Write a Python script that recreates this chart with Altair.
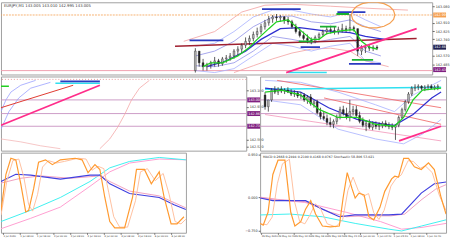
import altair as alt
import pandas as pd

# ================= TOP WINDOW (candles) =================
TOP_OPEN = [142.42,142.62,142.50,142.46,142.48,142.50,142.52,142.49,142.54,142.55,142.57,142.62,142.64,142.68,142.72,142.75,142.79,142.82,142.87,142.91,142.95,142.97,142.96,142.97,142.94,142.92,142.87,142.82,142.78,142.75,142.73,142.72,142.76,142.79,142.82,142.84,142.83,142.82,142.84,142.85,142.84,142.86,142.85,142.62,142.65,142.66,142.65,142.66]
TOP_HIGH = [142.65,142.60,142.54,142.50,142.52,142.56,142.54,142.56,142.58,142.60,142.64,142.67,142.70,142.76,142.78,142.82,142.86,142.90,142.94,142.98,142.99,143.00,142.99,142.98,142.97,142.94,142.90,142.85,142.82,142.79,142.76,142.78,142.81,142.84,142.87,142.88,142.87,142.87,142.90,142.88,143.00,142.88,142.85,142.68,142.69,142.69,142.68,142.68]
TOP_LOW = [142.40,142.46,142.42,142.42,142.44,142.46,142.46,142.47,142.50,142.52,142.54,142.58,142.60,142.65,142.68,142.72,142.76,142.79,142.84,142.88,142.91,142.93,142.92,142.90,142.89,142.85,142.80,142.76,142.73,142.70,142.69,142.70,142.73,142.77,142.79,142.80,142.79,142.79,142.81,142.81,142.82,142.82,142.57,142.58,142.60,142.62,142.62,142.63]
TOP_CLOSE = [142.62,142.50,142.46,142.48,142.50,142.52,142.49,142.54,142.55,142.57,142.62,142.64,142.68,142.72,142.75,142.79,142.82,142.87,142.91,142.95,142.97,142.96,142.97,142.94,142.92,142.87,142.82,142.78,142.75,142.73,142.72,142.76,142.79,142.82,142.84,142.83,142.82,142.84,142.85,142.84,142.86,142.85,142.62,142.65,142.66,142.65,142.66,142.65]
TOP_BARS = list(range(len(TOP_CLOSE)))

TOP_GREEN_X = [2,4,7,11,14,16,19,21,24,27,30,32,34,38,41,43,45,47]
TOP_GREEN_Y = [142.46,142.50,142.50,142.57,142.66,142.74,142.85,142.92,142.94,142.84,142.74,142.74,142.80,142.83,142.84,142.72,142.66,142.64]
TOP_BLUE_X = [3,8,13,17,22,27,33,40,44,49]
TOP_BLUE_Y = [142.46,142.52,142.62,142.74,142.85,142.86,142.83,142.81,142.77,142.74]
TOP_BAND_X = [0,5,10,15,20,25,30,35,40,44,48]
TOP_BAND_UP1 = [142.67,142.70,142.82,142.97,143.04,143.04,143.00,142.97,143.02,142.94,142.87]
TOP_BAND_LO1 = [142.42,142.40,142.44,142.57,142.70,142.67,142.62,142.67,142.70,142.52,142.50]
TOP_BAND_UP2 = [142.57,142.62,142.72,142.87,142.97,142.98,142.92,142.90,142.94,142.87,142.82]
TOP_BAND_LO2 = [142.47,142.46,142.50,142.62,142.77,142.74,142.70,142.74,142.77,142.62,142.57]
TOP_PINK_UP_X = [-3,5,12,18,25,35,44,55]
TOP_PINK_UP_Y = [142.72,142.82,143.02,143.09,143.10,143.08,143.06,143.04]
TOP_PINK_LO_X = [10,15,20,25,30,35,40,44,50]
TOP_PINK_LO_Y = [142.40,142.47,142.54,142.60,142.64,142.65,142.62,142.52,142.46]
TOP_RED_TREND_X = [-5.25, 57.25]
TOP_RED_TREND_Y = [142.67, 142.75]
TOP_PINK_TREND_X = [23.5, 57.25]
TOP_PINK_TREND_Y = [142.40, 142.85]
TOP_ORANGE_LEVEL = [142.99]
TOP_PINK_LEVEL = [142.42]
TOP_BLUE_SEG = [(-1.5, 7.25, 142.73), (17.25, 27.25, 143.05), (36.75, 44, 143.02), (27.25, 32.25, 142.66), (39.75, 48, 142.49)]
TOP_GREEN_SEG = [(36.5, 39.75, 143.00), (32.25, 36.5, 142.87), (26.75, 30.5, 142.72), (40.5, 46, 142.53)]
TOP_CYAN_X = [24, 34]
TOP_CYAN_Y = [142.40, 142.40]
TOP_CIRCLE = (46, 142.99)
TOP_TICKS = [143.080, 142.910, 142.825, 142.740, 142.570, 142.485]
TOP_TITLE = "EURJPY,M1  143.005 143.010 142.995 143.005"

# ================= LEFT MAIN =================
LM_LEVELS = [143.00, 142.86, 142.73]
LM_RED_X = [0, 36.5]; LM_RED_Y = [142.92, 143.15]
LM_PINK_X = [0, 50]; LM_PINK_Y = [142.74, 143.15]
LM_CURVE_A_X = [50,55,59,62.5,66,70,75]
LM_CURVE_A_Y = [142.50,142.60,142.72,142.85,143.00,143.12,143.20]
LM_CURVE_B_X = [0,10,20,30]
LM_CURVE_B_Y = [142.60,142.57,142.53,142.50]
LM_FAN1_X = [0,2.5,5,10,17.5]; LM_FAN1_Y = [142.88,143.00,143.08,143.15,143.20]
LM_FAN2_X = [0,4,9,15,25]; LM_FAN2_Y = [142.70,142.88,143.02,143.12,143.18]
LM_BLUE_SEG = (30, 50, 143.19)
LM_CYAN_SEG = (27.5, 50, 143.17)
LM_GREEN_SEG = (0, 4, 143.14)
LM_DOT_LEVEL = [143.21]
LM_TICKS = [143.10, 142.93, 142.59, 142.52]

# ================= LEFT OSCILLATOR =================
LO_OR1_X = [0,2.5,5,7.5,10,12.5,14,16.5,19,22.5,26,30,37.5,41,44,47.5,50,52.5,55,57.5,62.5,66.5,68.5,72.5,76,80,82.5,86,89,92.5]
LO_OR1_Y = [28,73,93,91,61,26,28,55,88,91,85,91,93,91,75,85,79,44,14,6,6,44,79,79,61,76,44,11,11,20]
LO_OR2_X = [0,3,6,9,11.5,14,16,18.5,21,24,28,32,39,43,46,49,52,54.5,57,60,64,68,70.5,74,78,82,85,88,91,93.5]
LO_OR2_Y = [22,65,90,92,70,35,27,48,82,90,87,89,93,92,78,83,80,50,20,7,7,40,76,80,65,74,48,14,11,17]
LO_BLUE_X = [0,7.5,15,30,45,50,55,65,80,87.5,93.5]
LO_BLUE_Y = [64,73,72,67,72,72,61,49,44,35,29]
LO_PSIG_X = [0,10,20,35,50,55,65,80,93.5]
LO_PSIG_Y = [62,68,71,68,71,64,52,46,31]
LO_CYAN_X = [0,15,30,45,55,65,80,93.5]
LO_CYAN_Y = [14,28,44,64,81,89,94,91]
LO_PINK_X = [0,15,30,45,55,65,80,93.5]
LO_PINK_Y = [5,18,32,58,76,87,92,91]
LO_TICKS = [1,9.5,18,26.5,35,43.5,52,60.5,69,77.5,86]
LO_LABELS = ["1 Jul 2020","1 Jul 08:00","1 Jul 16:00","2 Jul 00:00","2 Jul 08:00","2 Jul 16:00","3 Jul 00:00","3 Jul 08:00","3 Jul 16:00","6 Jul 00:00","6 Jul 08:00"]

# ================= RIGHT MAIN (candles) =================
RM_OPEN = [143.05,142.93,143.00,143.10,143.08,143.11,143.09,143.10,143.08,143.06,143.07,143.04,143.05,143.00,143.03,142.96,142.98,142.87,142.83,142.81,142.77,142.75,142.78,142.82,142.90,142.86,142.82,142.88,142.90,142.84,142.78,142.74,142.76,142.72,142.75,142.73,142.74,142.76,142.74,142.73,142.72,142.74,142.82,142.90,142.98,143.06,143.12,143.13,143.14,143.12,143.13,143.14,143.12,143.13]
RM_HIGH = [143.08,143.00,143.12,143.14,143.13,143.14,143.12,143.13,143.11,143.10,143.09,143.08,143.07,143.05,143.06,143.00,143.00,142.92,142.88,142.85,142.82,142.80,142.85,142.93,142.94,142.92,143.00,142.94,142.94,142.88,142.82,142.79,142.80,142.78,142.78,142.77,142.78,142.79,142.77,142.76,142.75,142.84,142.92,143.00,143.08,143.14,143.16,143.16,143.15,143.15,143.16,143.16,143.15,143.16]
RM_LOW = [142.90,142.88,142.98,143.06,143.05,143.07,143.06,143.07,143.04,143.03,143.02,143.01,142.98,142.96,142.94,142.92,142.85,142.80,142.79,142.74,142.72,142.71,142.75,142.80,142.84,142.80,142.78,142.84,142.82,142.76,142.72,142.68,142.70,142.69,142.70,142.69,142.71,142.72,142.70,142.69,142.59,142.72,142.80,142.88,142.96,143.04,143.09,143.10,143.10,143.09,143.10,143.11,143.10,143.10]
RM_CLOSE = [142.93,143.00,143.10,143.08,143.11,143.09,143.10,143.08,143.06,143.07,143.04,143.05,143.00,143.03,142.96,142.98,142.87,142.83,142.81,142.77,142.75,142.78,142.82,142.90,142.86,142.82,142.88,142.90,142.84,142.78,142.74,142.76,142.72,142.75,142.73,142.74,142.76,142.74,142.73,142.72,142.74,142.82,142.90,142.98,143.06,143.12,143.13,143.14,143.12,143.13,143.14,143.12,143.13,143.14]
RM_BARS = list(range(len(RM_CLOSE)))
RM_GREEN_X = [0,5.2,10.9,16.7,22.4,28.2,33.9,39.7,42.5,45.4,48.3,54]
RM_GREEN_Y = [143.08,143.10,143.05,142.90,142.82,142.82,142.75,142.73,142.82,143.00,143.10,143.12]
RM_BLUE_X = [0,10.9,19.5,28.2,36.8,39.7,45.4,51.1,54]
RM_BLUE_Y = [143.12,143.08,142.92,142.80,142.75,142.74,142.85,143.02,143.08]
RM_CYAN_X = [0, 54]; RM_CYAN_Y = [143.11, 143.13]
RM_RED1_X = [3.7, 54]; RM_RED1_Y = [143.20, 142.92]
RM_RED2_X = [18.1, 54]; RM_RED2_Y = [143.02, 142.75]
RM_PINK1_X = [0, 54]; RM_PINK1_Y = [142.85, 142.58]
RM_PINKT_X = [41.1, 54]; RM_PINKT_Y = [142.58, 142.73]
RM_BAND_X = [0,10.9,22.4,33.9,39.7,45.4,54]
RM_BAND_UP = [143.20,143.18,143.08,142.95,142.88,143.05,143.20]
RM_BAND_LO_X = [0,10.9,22.4,33.9,42.5,48.3,54]
RM_BAND_LO = [143.00,142.95,142.70,142.60,142.55,142.65,142.80]

# ================= RIGHT OSCILLATOR =================
RO_OR1_X = [0,0.9,2.3,3.7,5.2,7.2,8.9,10.1,11.8,13.2,14.7,16.1,18.1,20.4,23.0,24.1,25.3,26.7,27.6,28.7,30.2,31.6,33.0,34.8,36.2,38.2,39.1,40.2,41.7,43.1,44.8,46.8,48.9,50.6,52.6,54]
RO_OR1_Y = [-0.59,-0.63,-0.34,0.51,0.83,0.83,-0.34,-0.65,-0.55,-0.27,-0.08,-0.38,-0.65,-0.67,-0.65,-0.02,0.55,0.19,-0.02,0.09,0.05,-0.44,-0.51,-0.23,0.13,0.41,0.47,0.45,0.87,0.87,0.68,0.62,0.77,0.62,-0.02,-0.38]
RO_OR2_X = [0,2,3.5,5,6.5,8.5,10,11.5,13,14.5,16,17.5,19.5,22,24,25.5,27,28.5,30,31.5,33,34.5,36,38,39.5,41,43,44.5,46.5,48,50,52,54]
RO_OR2_Y = [-0.60,-0.62,-0.45,0.30,0.75,0.85,-0.10,-0.55,-0.60,-0.40,-0.15,-0.25,-0.60,-0.67,-0.50,0.15,0.45,0.15,0.02,0.08,-0.35,-0.50,-0.30,0.25,0.42,0.50,0.82,0.80,0.65,0.70,0.55,0.05,-0.30]
RO_BLUE_X = [0,3.7,13.2,18.1,23,27.6,37.4,41.1,46.8,50.6,54]
RO_BLUE_Y = [-0.02,-0.08,-0.08,-0.27,-0.44,-0.40,-0.40,-0.38,0.09,0.30,0.34]
RO_PSIG_X = [0,5,13,20,25,30,38,42,47,51,54]
RO_PSIG_Y = [0.0,-0.05,-0.10,-0.33,-0.44,-0.42,-0.42,-0.38,-0.05,0.18,0.28]
RO_CYAN_X = [0,8.6,18.1,27.6,37.4,41.1,46.8,54]
RO_CYAN_Y = [-0.40,-0.38,-0.44,-0.59,-0.72,-0.76,-0.65,-0.51]
RO_PINK_X = [0,13,25,35,41.1,47,54]
RO_PINK_Y = [-0.02,-0.12,-0.34,-0.55,-0.72,-0.68,-0.59]
RO_TICKS_Y = [0.95, 0.0, -0.75]
RO_TICKS = [0.3,5.1,9.9,14.7,19.5,24.3,29.1,33.9,38.7,43.5,48.3]
RO_LABELS = ["29 May 2020","29 May 10:40","29 May 13:20","29 May 16:00","29 May 18:40","29 May 21:20","1 Jun 00:00","1 Jun 02:40","1 Jun 05:20","1 Jun 08:00","1 Jun 10:40"]
RO_TITLE = "MACD 0.2668 0.2494  0.2190 0.4168 0.0767   Stochastic 58.806 53.021"

FONT = "DejaVu Sans"
# ellipse outline (unit shape, not data)
ELLIPSE = ("M 1 0 L 0.94 0.205 L 0.766 0.386 L 0.5 0.52 L 0.174 0.591 L -0.174 0.591 L -0.5 0.52 "
           "L -0.766 0.386 L -0.94 0.205 L -1 0 L -0.94 -0.205 L -0.766 -0.386 L -0.5 -0.52 "
           "L -0.174 -0.591 L 0.174 -0.591 L 0.5 -0.52 L 0.766 -0.386 L 0.94 -0.205 Z")


def encoders(xs, ys, xaxis=None, yaxis=None):
    def X(f):
        return alt.X(f, type="quantitative", scale=xs, axis=xaxis)

    def Y(f):
        return alt.Y(f, type="quantitative", scale=ys, axis=yaxis)
    return X, Y


def line(X, Y, xv, yv, color, w=1.0, dash=None):
    kw = dict(color=color, strokeWidth=w, clip=True)
    if dash:
        kw["strokeDash"] = dash
    df = pd.DataFrame({"x": xv, "y": yv})
    return alt.Chart(df).mark_line(**kw).encode(x=X("x"), y=Y("y"))


def hlines(Y, vals, color, w=1.0, dash=None):
    kw = dict(color=color, strokeWidth=w)
    if dash:
        kw["strokeDash"] = dash
    return alt.Chart(pd.DataFrame({"y": vals})).mark_rule(**kw).encode(y=Y("y"))


def segs(X, Y, items, color, w=2.0):
    df = pd.DataFrame({"x": [a for a, b, c in items], "x2": [b for a, b, c in items], "y": [c for a, b, c in items]})
    return alt.Chart(df).mark_rule(color=color, strokeWidth=w, clip=True).encode(x=X("x"), x2="x2", y=Y("y"))


def candles(X, Y, bars, o, h, l, c, bw):
    df = pd.DataFrame({"i": bars, "o": o, "h": h, "l": l, "c": c})
    base = alt.Chart(df)
    wick = base.mark_rule(color="#333333", strokeWidth=0.8).encode(x=X("i"), y=Y("l"), y2="h")
    body = base.mark_bar(width=bw, stroke="#222222", strokeWidth=0.4).encode(
        x=X("i"), y=Y("o"), y2="c",
        color=alt.condition("datum.c >= datum.o", alt.value("#b8b8b8"), alt.value("#222222")))
    return [wick, body]


def label_box(Y, vals, texts, color, x0, x1, tcolor="white"):
    df = pd.DataFrame({"y": vals, "t": texts})
    box = alt.Chart(df).mark_rule(color=color, strokeWidth=5).encode(x=alt.value(x0), x2=alt.value(x1), y=Y("y"))
    txt = alt.Chart(df).mark_text(fontSize=3.4, color=tcolor, align="left", baseline="middle", font=FONT).encode(
        x=alt.value(x0 + 1), y=Y("y"), text="t:N")
    return [box, txt]


def ptext(txt, x, y, size=3.8, color="#333333"):
    return alt.Chart(pd.DataFrame({"t": [txt]})).mark_text(
        align="left", baseline="top", fontSize=size, color=color, font=FONT).encode(
        x=alt.value(x), y=alt.value(y), text="t:N")


def date_axis(ticks, labels):
    expr = "[" + ",".join("'%s'" % s for s in labels) + "][indexof([" + ",".join(str(v) for v in ticks) + "], datum.value)]"
    return alt.Axis(values=ticks, labelExpr=expr, labelFontSize=2.5, tickSize=1.5, labelPadding=0,
                    domain=False, grid=False, labelAlign="left", labelColor="#333333",
                    labelOverlap=False, labelFlush=False, title=None, tickColor="#666666", labelFont=FONT)


def price_axis(orient, ticks, fmt):
    return alt.Axis(orient=orient, values=ticks, format=fmt, labelFontSize=3.4, tickSize=2, labelPadding=1,
                    domain=False, grid=False, labelColor="#333333", title=None, tickColor="#666666",
                    labelOverlap=False, labelFlush=False, labelFont=FONT)


# ---------- top panel ----------
tX, tY = encoders(alt.Scale(domain=[-49, 60], nice=False, zero=False),
                  alt.Scale(domain=[142.38, 143.12], nice=False, zero=False),
                  None, price_axis("right", TOP_TICKS, ".3f"))
top_layers = [
    hlines(tY, TOP_PINK_LEVEL, "#f0a0b0", 1.0),
    line(tX, tY, TOP_PINK_UP_X, TOP_PINK_UP_Y, "#f2a0a0", 0.8),
    line(tX, tY, TOP_PINK_LO_X, TOP_PINK_LO_Y, "#f2a0a0", 0.8),
    line(tX, tY, TOP_BAND_X, TOP_BAND_UP1, "#a8b0ff", 0.8),
    line(tX, tY, TOP_BAND_X, TOP_BAND_LO1, "#a8b0ff", 0.8),
    line(tX, tY, TOP_BAND_X, TOP_BAND_UP2, "#8f8fe8", 0.8),
    line(tX, tY, TOP_BAND_X, TOP_BAND_LO2, "#8f8fe8", 0.8),
    line(tX, tY, TOP_CYAN_X, TOP_CYAN_Y, "#30e0f0", 1.5),
    hlines(tY, TOP_ORANGE_LEVEL, "#f5a050", 0.8, [2, 1]),
    line(tX, tY, TOP_RED_TREND_X, TOP_RED_TREND_Y, "#a02030", 1.5),
    line(tX, tY, TOP_BLUE_X, TOP_BLUE_Y, "#3030d0", 1.3),
] + candles(tX, tY, TOP_BARS, TOP_OPEN, TOP_HIGH, TOP_LOW, TOP_CLOSE, 1.8) + [
    line(tX, tY, TOP_GREEN_X, TOP_GREEN_Y, "#20d020", 1.3),
    line(tX, tY, TOP_PINK_TREND_X, TOP_PINK_TREND_Y, "#ff2d8a", 1.8),
    segs(tX, tY, TOP_BLUE_SEG, "#2a3ac0", 1.8),
    segs(tX, tY, TOP_GREEN_SEG, "#18b030", 1.8),
    alt.Chart(pd.DataFrame({"x": [TOP_CIRCLE[0]], "y": [TOP_CIRCLE[1]]})).mark_point(
        shape=ELLIPSE, size=1936, filled=False, clip=True,
        stroke="#f5a050", strokeWidth=1.2, opacity=1).encode(x=tX("x"), y=tY("y")),
    ptext(TOP_TITLE, 3, 1.5),
] + label_box(tY, [142.99], ["142.995"], "#f5a050", 437, 450) \
  + label_box(tY, [142.66], ["142.660"], "#202050", 437, 450) \
  + label_box(tY, [142.43], ["142.430"], "#802080", 437, 450)
top = alt.layer(*top_layers).properties(width=436, height=73)

# ---------- left main ----------
lmX, lmY = encoders(alt.Scale(domain=[0, 124], nice=False, zero=False),
                    alt.Scale(domain=[142.48, 143.24], nice=False, zero=False),
                    None, price_axis("right", LM_TICKS, ".3f"))
lm_layers = [
    hlines(lmY, LM_DOT_LEVEL, "#e08080", 0.8, [1, 2]),
    hlines(lmY, LM_LEVELS, "#c890c0", 0.9),
    line(lmX, lmY, LM_CURVE_A_X, LM_CURVE_A_Y, "#f4a8a8", 0.8),
    line(lmX, lmY, LM_CURVE_B_X, LM_CURVE_B_Y, "#f4b8b8", 0.8),
    line(lmX, lmY, LM_FAN1_X, LM_FAN1_Y, "#9aa0ff", 0.8),
    line(lmX, lmY, LM_FAN2_X, LM_FAN2_Y, "#9aa0ff", 0.8),
    line(lmX, lmY, LM_RED_X, LM_RED_Y, "#e03a30", 1.0),
    line(lmX, lmY, LM_PINK_X, LM_PINK_Y, "#ff2d8a", 1.8),
    segs(lmX, lmY, [LM_CYAN_SEG], "#30e0f0", 1.5),
    segs(lmX, lmY, [LM_BLUE_SEG], "#2a3ac0", 1.8),
    segs(lmX, lmY, [LM_GREEN_SEG], "#20d020", 1.5),
] + label_box(lmY, LM_LEVELS, ["143.000", "142.860", "142.730"], "#802080", 249, 262)
left_main = alt.layer(*lm_layers).properties(width=248, height=75)

# ---------- left oscillator ----------
loX, loY = encoders(alt.Scale(domain=[0, 93.5], nice=False, zero=False),
                    alt.Scale(domain=[0, 100], nice=False, zero=False),
                    date_axis(LO_TICKS, LO_LABELS), None)
lo_layers = [
    line(loX, loY, LO_PINK_X, LO_PINK_Y, "#ff9ed0", 1.0),
    line(loX, loY, LO_CYAN_X, LO_CYAN_Y, "#40f0f0", 1.0),
    line(loX, loY, LO_PSIG_X, LO_PSIG_Y, "#f0a0c0", 1.0),
    line(loX, loY, LO_BLUE_X, LO_BLUE_Y, "#4040e0", 1.2),
    line(loX, loY, LO_OR2_X, LO_OR2_Y, "#ffc0a0", 1.0),
    line(loX, loY, LO_OR1_X, LO_OR1_Y, "#ff9a30", 1.2),
]
left_osc = alt.layer(*lo_layers).properties(width=187, height=81)

# ---------- right main ----------
rmX, rmY = encoders(alt.Scale(domain=[0, 54], nice=False, zero=False),
                    alt.Scale(domain=[142.48, 143.24], nice=False, zero=False),
                    None, None)
rm_layers = [
    hlines(rmY, LM_LEVELS, "#c890c0", 0.9),
    line(rmX, rmY, RM_BAND_X, RM_BAND_UP, "#a8b0ff", 0.8),
    line(rmX, rmY, RM_BAND_LO_X, RM_BAND_LO, "#a8b0ff", 0.8),
    line(rmX, rmY, RM_RED1_X, RM_RED1_Y, "#f07070", 0.9),
    line(rmX, rmY, RM_RED2_X, RM_RED2_Y, "#f07070", 0.9),
    line(rmX, rmY, RM_PINK1_X, RM_PINK1_Y, "#f4a0c0", 0.9),
    line(rmX, rmY, RM_CYAN_X, RM_CYAN_Y, "#30e0f0", 1.5),
    line(rmX, rmY, RM_BLUE_X, RM_BLUE_Y, "#3030d0", 1.2),
] + candles(rmX, rmY, RM_BARS, RM_OPEN, RM_HIGH, RM_LOW, RM_CLOSE, 1.8) + [
    line(rmX, rmY, RM_GREEN_X, RM_GREEN_Y, "#20d020", 1.3),
    line(rmX, rmY, RM_PINKT_X, RM_PINKT_Y, "#ff2d8a", 1.8),
]
right_main = alt.layer(*rm_layers).properties(width=188, height=75)

# ---------- right oscillator ----------
roX, roY = encoders(alt.Scale(domain=[0, 54], nice=False, zero=False),
                    alt.Scale(domain=[-0.8, 1.0], nice=False, zero=False),
                    date_axis(RO_TICKS, RO_LABELS), price_axis("left", RO_TICKS_Y, ".3f"))
ro_layers = [
    line(roX, roY, RO_PINK_X, RO_PINK_Y, "#ff9ed0", 1.0),
    line(roX, roY, RO_CYAN_X, RO_CYAN_Y, "#40f0f0", 1.0),
    line(roX, roY, RO_PSIG_X, RO_PSIG_Y, "#f0a0c0", 1.0),
    line(roX, roY, RO_BLUE_X, RO_BLUE_Y, "#4040e0", 1.2),
    line(roX, roY, RO_OR2_X, RO_OR2_Y, "#ffc0a0", 1.0),
    line(roX, roY, RO_OR1_X, RO_OR1_Y, "#ff9a30", 1.2),
    ptext(RO_TITLE, 3, 2, 3.2),
]
right_osc = alt.layer(*ro_layers).properties(width=188, height=81)

row_main = alt.hconcat(left_main, right_main, spacing=14, bounds="flush")
row_osc = alt.hconcat(left_osc, right_osc, spacing=75, bounds="flush")
chart = alt.vconcat(top, row_main, row_osc, spacing=0).properties(
    padding=0, background="white"
).configure_view(stroke="#a0a0a0", strokeWidth=1)

chart.save("out.html", embed_options={"renderer": "svg", "actions": False})
